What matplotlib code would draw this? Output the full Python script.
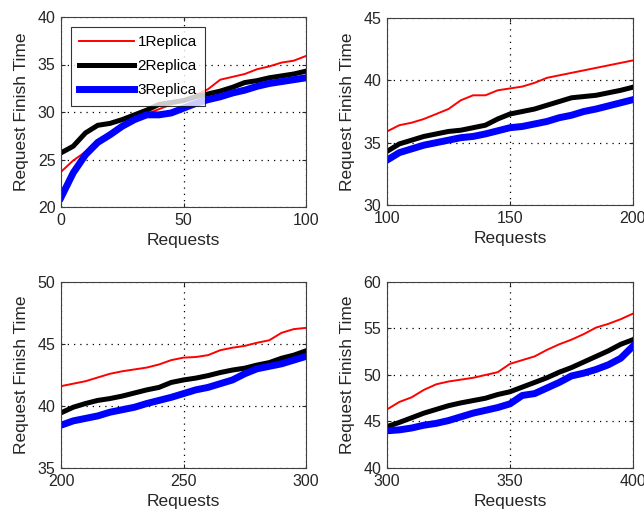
import numpy as np
import matplotlib
matplotlib.use("Agg")
import matplotlib.pyplot as plt

plt.rcParams['font.family'] = ['Liberation Sans', 'DejaVu Sans']

# Requests sampled every 5 requests (0..400)
requests = list(range(0, 401, 5))

replica1 = [
    23.7, 24.9, 25.8, 26.8, 27.6, 28.6, 29.3, 29.8, 30.3, 30.8, 31.3,
    31.8, 32.4, 33.4, 33.7, 34.0, 34.5, 34.8, 35.2, 35.4, 35.9,
    36.4, 36.6, 36.9, 37.3, 37.7, 38.4, 38.8, 38.8, 39.2, 39.35,
    39.5, 39.8, 40.2, 40.4, 40.6, 40.8, 41.0, 41.2, 41.4, 41.6,
    41.8, 42.0, 42.3, 42.6, 42.8, 42.95, 43.1, 43.35, 43.7, 43.9,
    43.95, 44.1, 44.5, 44.7, 44.85, 45.1, 45.3, 45.9, 46.2, 46.3,
    47.1, 47.6, 48.4, 49.0, 49.3, 49.5, 49.7, 50.0, 50.3, 51.2,
    51.6, 52.0, 52.7, 53.3, 53.8, 54.4, 55.1, 55.5, 56.0, 56.6,
]
replica2 = [
    25.7, 26.4, 27.8, 28.6, 28.8, 29.2, 29.7, 30.2, 30.8, 31.0, 31.2,
    31.6, 31.9, 32.2, 32.6, 33.1, 33.3, 33.6, 33.8, 34.0, 34.3,
    34.9, 35.2, 35.5, 35.7, 35.9, 36.0, 36.2, 36.4, 36.9, 37.3,
    37.5, 37.7, 38.0, 38.3, 38.6, 38.7, 38.8, 39.0, 39.2, 39.45,
    39.9, 40.2, 40.45, 40.6, 40.8, 41.05, 41.3, 41.5, 41.9, 42.1,
    42.25, 42.45, 42.7, 42.9, 43.05, 43.3, 43.5, 43.85, 44.1, 44.45,
    44.9, 45.4, 45.9, 46.3, 46.7, 47.0, 47.25, 47.5, 47.9, 48.2,
    48.7, 49.2, 49.7, 50.3, 50.8, 51.4, 52.0, 52.6, 53.3, 53.8,
]
replica3 = [
    21.0, 23.6, 25.5, 26.8, 27.6, 28.5, 29.2, 29.7, 29.7, 29.9, 30.4,
    30.9, 31.3, 31.6, 32.0, 32.3, 32.7, 33.0, 33.2, 33.4, 33.6,
    34.2, 34.5, 34.8, 35.0, 35.2, 35.4, 35.5, 35.7, 35.95, 36.2,
    36.3, 36.5, 36.7, 37.0, 37.2, 37.5, 37.7, 37.95, 38.2, 38.45,
    38.8, 39.0, 39.2, 39.5, 39.7, 39.9, 40.2, 40.45, 40.7, 41.0,
    41.3, 41.5, 41.8, 42.1, 42.6, 43.0, 43.2, 43.4, 43.7, 44.0,
    44.1, 44.3, 44.6, 44.8, 45.1, 45.5, 45.9, 46.2, 46.5, 46.9,
    47.8, 48.0, 48.6, 49.2, 49.9, 50.2, 50.6, 51.1, 51.8, 53.1,
]

labels = ['1Replica', '2Replica', '3Replica']
x_ranges = [(0, 100), (100, 200), (200, 300), (300, 400)]
y_ranges = [(20, 40), (30, 45), (35, 50), (40, 60)]

axes_pos = [
    [61/644, 1-207/512, 245/644, 190/512],
    [387/644, 1-205/512, 246/644, 187/512],
    [61/644, 1-468/512, 245/644, 186/512],
    [387/644, 1-468/512, 246/644, 186/512],
]

fig = plt.figure(figsize=(6.44, 5.12), dpi=100)
for i, pos in enumerate(axes_pos):
    ax = fig.add_axes(pos)
    ax.plot(requests, replica1, color='#ff0000', lw=1.4, label=labels[0])
    ax.plot(requests, replica2, color='black', lw=3.6, label=labels[1])
    ax.plot(requests, replica3, color='#0000ff', lw=5.0, label=labels[2])
    x0, x1 = x_ranges[i]
    y0, y1 = y_ranges[i]
    ax.set_xlim(x0, x1)
    ax.set_ylim(y0, y1)
    ax.set_xticks([x0, (x0 + x1) // 2, x1])
    ax.set_yticks(np.arange(y0, y1 + 0.1, 5))
    ax.grid(True, color='black', linestyle=(0, (1, 4)), linewidth=0.9)
    ax.tick_params(direction='in', top=True, right=True, length=3,
                   labelsize=11.5, colors='#262626')
    ax.tick_params(axis='x', pad=4)
    ax.tick_params(axis='y', pad=4)
    for s in ax.spines.values():
        s.set_color('#404040')
        s.set_linewidth(0.8)
    ax.set_xlabel('Requests', fontsize=12.5, labelpad=4, color='#262626')
    ax.set_ylabel('Request Finish Time', fontsize=12.5, labelpad=6, color='#262626')
    if i == 0:
        leg = ax.legend(loc='upper left', fontsize=11, frameon=True, fancybox=False,
                        borderpad=0.55, handlelength=3.6, labelspacing=0.65,
                        handletextpad=0.2, borderaxespad=0.65)
        leg.get_frame().set_edgecolor('black')
        leg.get_frame().set_linewidth(0.8)

fig.savefig('out.png', dpi=100)
